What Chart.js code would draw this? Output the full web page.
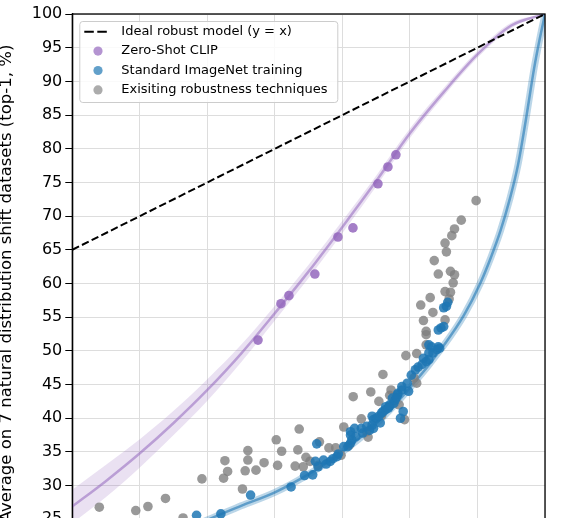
<!DOCTYPE html>
<html><head><meta charset="utf-8">
<script src="https://cdn.jsdelivr.net/npm/chart.js@4/dist/chart.umd.min.js"></script>
<style>
html,body{margin:0;padding:0;background:#fff;overflow:hidden;}
#wrap{width:567px;height:518px;overflow:hidden;position:relative;}
canvas{display:block;}
</style></head><body>
<div id="wrap"><canvas id="c" width="567" height="620" style="width:567px;height:620px"></canvas></div>
<script>
// ---- data ----
const yAxisTitle = 'Average on 7 natural distribution shift datasets (top-1, %)';
const legendLabels = ['Ideal robust model (y = x)', 'Zero-Shot CLIP', 'Standard ImageNet training', 'Exisiting robustness techniques'];
const xTicks = [65, 70, 75, 80, 85, 90, 95, 100];
const yTickStep = 5;

const idealX = [65, 100];
const idealY = [65, 100];

const clipCurveX = [65, 67.5, 70, 72.5, 75, 77.5, 80, 82.5, 85, 87.5, 90, 92.5, 95, 97.5, 100];
const clipCurveY = [26.9, 30.7, 34.8, 39.3, 44.2, 49.6, 55.6, 61.8, 68.4, 75.2, 82.3, 88.4, 94.0, 98.3, 100];
const clipBandHigh = [29.4, 33.1, 36.9, 41.1, 45.8, 50.9, 56.7, 62.8, 69.3, 76.0, 83.0, 89.0, 94.5, 98.7, 100];
const clipBandLow = [24.4, 28.3, 32.7, 37.5, 42.6, 48.3, 54.5, 60.8, 67.5, 74.4, 81.6, 87.8, 93.5, 97.9, 100];

const inetCurveX = [70, 72.5, 75, 77.5, 80, 82.5, 85, 87.5, 90, 92.5, 94, 95.2, 96, 96.7, 97.4, 98, 98.6, 99.2, 99.6, 100];
const inetCurveY = [20.3, 22.5, 24.9, 27.0, 29.0, 31.7, 35.0, 39.2, 44.5, 50.8, 55.3, 60.0, 63.9, 67.8, 72.6, 77.6, 84.5, 92.0, 96.2, 100];

const clipPointsX = [78.75, 80.45, 81.04, 82.96, 84.67, 85.78, 87.63, 88.37, 88.96];
const clipPointsY = [51.6, 57.0, 58.2, 61.4, 66.9, 68.25, 74.8, 77.3, 79.1];

const inetPointsX = [74.2, 76.0, 78.2, 81.2, 82.2, 82.8, 83.1, 83.2, 83.6, 83.0, 84.1, 84.6, 84.7, 85.1, 85.4, 85.6, 85.7, 85.6, 85.6, 85.9, 86.4, 86.8, 87.2, 87.3, 87.3, 87.2, 87.5, 87.8, 87.7, 87.9, 88.0, 88.2, 88.2, 88.4, 88.5, 88.5, 88.8, 88.9, 89.1, 89.1, 89.4, 89.4, 89.8, 89.9, 89.3, 89.5, 90.1, 90.4, 91.2, 91.4, 91.7, 92.2, 91.4, 91.6, 92.0, 92.1, 91.4, 92.3, 92.1, 92.5, 92.7, 92.8, 92.5, 86.0, 86.5, 87.0, 88.7, 89.0, 90.6, 90.9, 91.0, 84.3, 83.8];
const inetPointsY = [25.6, 25.8, 28.6, 29.8, 31.5, 31.6, 36.2, 32.8, 33.8, 33.6, 33.6, 34.3, 34.7, 35.8, 35.8, 36.3, 36.8, 37.5, 38.0, 38.5, 38.5, 38.8, 39.0, 38.5, 39.8, 40.3, 40.0, 39.3, 40.3, 40.8, 41.0, 41.3, 41.7, 41.5, 41.8, 42.0, 42.2, 42.7, 43.7, 43.5, 44.2, 44.7, 45.2, 44.0, 40.0, 41.0, 46.4, 47.2, 48.4, 48.7, 49.7, 50.4, 50.9, 50.6, 50.2, 50.6, 49.7, 53.4, 53.1, 53.6, 56.6, 57.2, 56.4, 37.3, 37.8, 38.2, 43.0, 43.1, 47.6, 48.0, 48.9, 34.0, 33.2];

const robustPointsX = [67.0, 69.7, 70.6, 71.9, 73.2, 74.6, 76.2, 76.3, 76.5, 77.6, 77.8, 78.0, 78.0, 78.6, 79.2, 80.1, 80.2, 80.5, 81.7, 81.8, 81.5, 82.3, 82.1, 83.3, 84.0, 84.5, 85.1, 85.8, 86.4, 86.8, 87.1, 87.7, 88.0, 88.6, 89.6, 89.7, 90.5, 91.2, 91.2, 91.2, 91.0, 92.6, 91.7, 90.8, 91.5, 92.6, 93.0, 92.9, 93.2, 93.3, 93.0, 92.1, 91.8, 92.7, 92.6, 93.1, 93.3, 93.8, 94.9, 84.9, 85.5, 86.9, 87.9, 89.2, 90.3, 88.5, 83.2, 82.6, 90.5];
const robustPointsY = [26.8, 26.3, 26.9, 28.1, 25.2, 31.0, 31.1, 33.7, 32.1, 29.5, 32.2, 33.8, 35.2, 32.3, 33.4, 36.8, 33.0, 35.1, 35.3, 38.4, 32.9, 34.2, 32.8, 36.5, 35.6, 35.6, 38.7, 43.2, 39.9, 38.0, 43.9, 42.5, 46.5, 44.2, 39.8, 49.3, 49.6, 50.9, 52.4, 52.9, 54.5, 54.6, 55.7, 56.8, 57.9, 58.8, 58.7, 57.7, 60.1, 61.3, 61.8, 61.4, 63.4, 64.7, 66.0, 67.1, 68.1, 69.4, 72.3, 34.5, 36.0, 37.2, 40.4, 42.0, 46.0, 43.4, 33.0, 33.6, 45.2];

// ---- styles ----
const FONT = '"DejaVu Sans", "Liberation Sans", sans-serif';
const purplePoint = 'rgba(148,103,189,0.85)';
const bluePoint = 'rgba(31,119,180,0.85)';
const grayPoint = 'rgba(127,127,127,0.8)';
const legendColors = [null, 'rgba(148,103,189,0.7)', 'rgba(31,119,180,0.7)', 'rgba(127,127,127,0.65)'];

const toPts = (xs, ys) => xs.map((x, i) => ({x: x, y: ys[i]}));

const framePlugin = {
  id: 'frame',
  afterDatasetsDraw(chart) {
    const {ctx, chartArea: a} = chart;
    ctx.save();
    ctx.strokeStyle = '#000';
    ctx.lineWidth = 1.3;
    ctx.strokeRect(a.left, a.top, a.right - a.left, a.bottom - a.top);
    ctx.restore();
  }
};

const boxLegend = {
  id: 'boxLegend',
  afterDraw(chart) {
    const {ctx, chartArea: a} = chart;
    const x0 = a.left + 7, y0 = a.top + 7, w = 258, h = 81;
    ctx.save();
    ctx.beginPath();
    if (ctx.roundRect) ctx.roundRect(x0 + 0.5, y0 + 0.5, w, h, 3); else ctx.rect(x0 + 0.5, y0 + 0.5, w, h);
    ctx.fillStyle = 'rgba(255,255,255,0.85)';
    ctx.fill();
    ctx.strokeStyle = '#cccccc';
    ctx.lineWidth = 1;
    ctx.stroke();
    ctx.font = '13px ' + FONT;
    ctx.textBaseline = 'middle';
    legendLabels.forEach((t, i) => {
      const cy = y0 + 10.7 + i * 19.4;
      if (i === 0) {
        ctx.save();
        ctx.setLineDash([9.5, 3.5]);
        ctx.strokeStyle = '#000';
        ctx.lineWidth = 2;
        ctx.beginPath();
        ctx.moveTo(x0 + 5, cy);
        ctx.lineTo(x0 + 28, cy);
        ctx.stroke();
        ctx.restore();
      } else {
        ctx.beginPath();
        ctx.arc(x0 + 18.7, cy, 4.6, 0, Math.PI * 2);
        ctx.fillStyle = legendColors[i];
        ctx.fill();
      }
      ctx.fillStyle = '#000';
      ctx.fillText(t, x0 + 42, cy);
    });
    ctx.restore();
  }
};

Chart.defaults.font.family = FONT;
Chart.defaults.color = '#000';

new Chart(document.getElementById('c'), {
  type: 'scatter',
  data: {
    datasets: [
      { label: legendLabels[0], type: 'line', data: toPts(idealX, idealY), borderColor: '#000', borderWidth: 2,
        borderDash: [7.5, 3.3], pointRadius: 0, fill: false, order: 0 },
      { label: 'clip band low', type: 'line', data: toPts(clipCurveX, clipBandLow), borderWidth: 0, borderColor: 'rgba(0,0,0,0)',
        pointRadius: 0, fill: false, cubicInterpolationMode: 'monotone', order: 9 },
      { label: 'clip band high', type: 'line', data: toPts(clipCurveX, clipBandHigh), borderWidth: 0, borderColor: 'rgba(0,0,0,0)',
        pointRadius: 0, fill: '-1', backgroundColor: 'rgba(148,103,189,0.2)', cubicInterpolationMode: 'monotone', order: 8 },
      { label: 'clip fit', type: 'line', data: toPts(clipCurveX, clipCurveY), borderColor: 'rgba(148,103,189,0.55)', borderWidth: 2.5,
        pointRadius: 0, fill: false, cubicInterpolationMode: 'monotone', order: 7 },
      { label: 'inet band', type: 'line', data: toPts(inetCurveX, inetCurveY), borderColor: 'rgba(31,119,180,0.3)', borderWidth: 7,
        pointRadius: 0, fill: false, cubicInterpolationMode: 'monotone', order: 6 },
      { label: 'inet fit', type: 'line', data: toPts(inetCurveX, inetCurveY), borderColor: 'rgba(31,119,180,0.6)', borderWidth: 2.5,
        pointRadius: 0, fill: false, cubicInterpolationMode: 'monotone', order: 5 },
      { label: legendLabels[3], data: toPts(robustPointsX, robustPointsY), backgroundColor: grayPoint, pointRadius: 4.8,
        pointBorderWidth: 0, borderWidth: 0, order: 3 },
      { label: legendLabels[2], data: toPts(inetPointsX, inetPointsY), backgroundColor: bluePoint, pointRadius: 4.8,
        pointBorderWidth: 0, borderWidth: 0, order: 2 },
      { label: legendLabels[1], data: toPts(clipPointsX, clipPointsY), backgroundColor: purplePoint, pointRadius: 4.8,
        pointBorderWidth: 0, borderWidth: 0, order: 1 }
    ]
  },
  options: {
    responsive: false,
    animation: false,
    devicePixelRatio: 1,
    layout: { padding: { top: 14, right: 22, left: 0, bottom: 0 } },
    plugins: { legend: { display: false }, tooltip: { enabled: false } },
    scales: {
      x: {
        type: 'linear', min: xTicks[0], max: xTicks[xTicks.length - 1],
        afterBuildTicks(s) { s.ticks = xTicks.map(v => ({value: v})); },
        ticks: { font: { size: 16 }, color: '#000', padding: 3 },
        grid: { color: '#dddddd', lineWidth: 1, tickColor: '#000', tickLength: 7, tickWidth: 1 },
        border: { color: '#000', width: 1.3 },
        afterFit(s) { s.height = 67; }
      },
      y: {
        type: 'linear', min: 20, max: 100,
        ticks: { stepSize: yTickStep, font: { size: 16 }, color: '#000', padding: 3 },
        grid: { color: '#dddddd', lineWidth: 1, tickColor: '#000', tickLength: 7, tickWidth: 1 },
        border: { color: '#000', width: 1.3 },
        title: { display: true, text: yAxisTitle, font: { size: 16.5, lineHeight: 0.8 }, color: '#000', padding: 0 },
        afterFit(s) { s.width = 72.3; }
      }
    }
  },
  plugins: [framePlugin, boxLegend]
});
</script>
</body></html>
